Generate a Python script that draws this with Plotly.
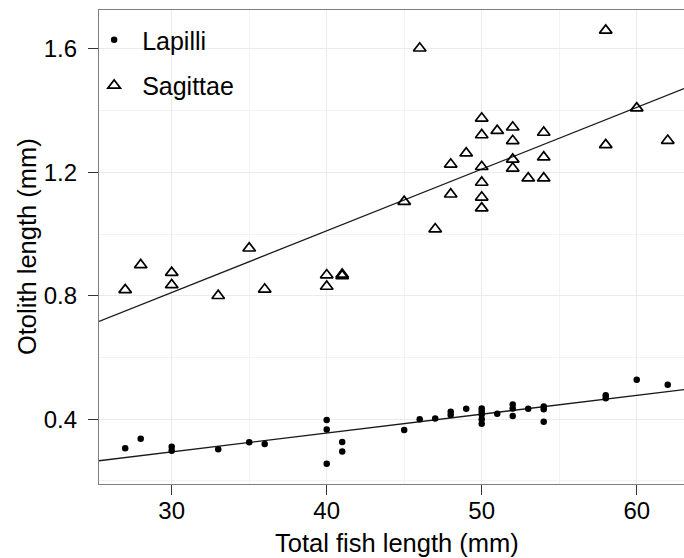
import numpy as np
import plotly.graph_objects as go

# Total fish length (mm) and otolith length (mm) per otolith type
lap_fish = [27, 28, 30, 30, 33, 35, 36, 40, 40, 40, 41, 41,
            45, 46, 47, 48, 48, 49, 50, 50, 50, 50, 50, 51,
            52, 52, 52, 53, 54, 54, 54, 58, 58, 60, 62]
lap_oto = [0.306, 0.337, 0.311, 0.298, 0.303, 0.325, 0.320, 0.397, 0.367, 0.256, 0.326, 0.295,
           0.365, 0.400, 0.402, 0.424, 0.414, 0.434, 0.435, 0.425, 0.415, 0.400, 0.385, 0.418,
           0.448, 0.435, 0.410, 0.434, 0.441, 0.432, 0.392, 0.478, 0.468, 0.528, 0.512]

sag_fish = [27, 28, 30, 30, 33, 35, 36, 40, 40, 41, 41,
            45, 46, 47, 48, 48, 49, 50, 50, 50, 50, 50, 50, 51,
            52, 52, 52, 52, 53, 54, 54, 54, 58, 58, 60, 62]
sag_oto = [0.819, 0.900, 0.875, 0.835, 0.800, 0.954, 0.821, 0.867, 0.830, 0.869, 0.864,
           1.105, 1.602, 1.016, 1.226, 1.129, 1.262, 1.375, 1.321, 1.218, 1.167, 1.119, 1.084, 1.335,
           1.346, 1.302, 1.242, 1.213, 1.181, 1.329, 1.249, 1.181, 1.660, 1.289, 1.408, 1.303]

x_ticks = [30, 40, 50, 60]
y_ticks = [0.4, 0.8, 1.2, 1.6]
x_range = [25.31, 63.05]
y_range = [0.19, 1.726]

FONT = "Liberation Sans, Arial, sans-serif"

fig = go.Figure()

# least-squares lines drawn across the whole panel
xs = np.array(x_range)
for fx, fy in [(lap_fish, lap_oto), (sag_fish, sag_oto)]:
    slope, icpt = np.polyfit(fx, fy, 1)
    fig.add_trace(go.Scatter(x=xs, y=slope * xs + icpt, mode="lines",
                             line=dict(color="#1a1a1a", width=1.3),
                             showlegend=False, hoverinfo="skip"))

fig.add_trace(go.Scatter(x=lap_fish, y=lap_oto, mode="markers", name="Lapilli",
                         legendgroup="a",
                         marker=dict(symbol="circle", size=6.5, color="black",
                                     line=dict(width=0))))
fig.add_trace(go.Scatter(x=sag_fish, y=sag_oto, mode="markers", name="Sagittae",
                         legendgroup="b",
                         marker=dict(symbol="triangle-up-open", size=11, color="black",
                                     line=dict(width=1.7, color="black"))))

grid_major = "#ebebeb"
grid_minor = "#f3f3f3"

fig.update_layout(
    width=684, height=558,
    margin=dict(l=99, r=0, t=10, b=74),
    paper_bgcolor="white", plot_bgcolor="white",
    font=dict(family=FONT, color="black"),
    showlegend=True,
    legend=dict(x=-0.022, y=0.985, xanchor="left", yanchor="top",
                bgcolor="rgba(0,0,0,0)", font=dict(size=25, family=FONT),
                traceorder="grouped", tracegroupgap=10, itemwidth=46),
    annotations=[
        dict(text="Total fish length (mm)", xref="paper", yref="paper",
             x=0.509, y=-0.1245, xanchor="center", yanchor="middle",
             showarrow=False, font=dict(size=25.5, family=FONT, color="black")),
        dict(text="Otolith length (mm)", xref="paper", yref="paper",
             x=-0.123, y=0.5, xanchor="center", yanchor="middle", textangle=-90,
             showarrow=False, font=dict(size=25.5, family=FONT, color="black")),
    ],
)

fig.update_xaxes(
    range=x_range, tickvals=x_ticks, ticktext=[str(v) for v in x_ticks],
    showgrid=True, gridcolor=grid_major, gridwidth=1.2,
    minor=dict(tickvals=[25, 35, 45, 55], showgrid=True, gridcolor=grid_minor, gridwidth=1.2),
    zeroline=False, showline=True, linecolor="#7f7f7f", linewidth=1.2, mirror=True,
    ticks="outside", ticklen=10, tickwidth=1.3, tickcolor="#333333",
    ticklabelstandoff=-5,
    tickfont=dict(size=24, family=FONT, color="black"),
)
fig.update_yaxes(
    range=y_range, tickvals=y_ticks, ticktext=[f"{v:.1f}" for v in y_ticks],
    showgrid=True, gridcolor=grid_major, gridwidth=1.2,
    minor=dict(tickvals=[0.2, 0.6, 1.0, 1.4], showgrid=True, gridcolor=grid_minor, gridwidth=1.2),
    zeroline=False, showline=True, linecolor="#7f7f7f", linewidth=1.2, mirror=False,
    ticks="outside", ticklen=10, tickwidth=1.3, tickcolor="#333333",
    ticklabelstandoff=6,
    tickfont=dict(size=24, family=FONT, color="black"),
)

fig.write_html("out.html")
